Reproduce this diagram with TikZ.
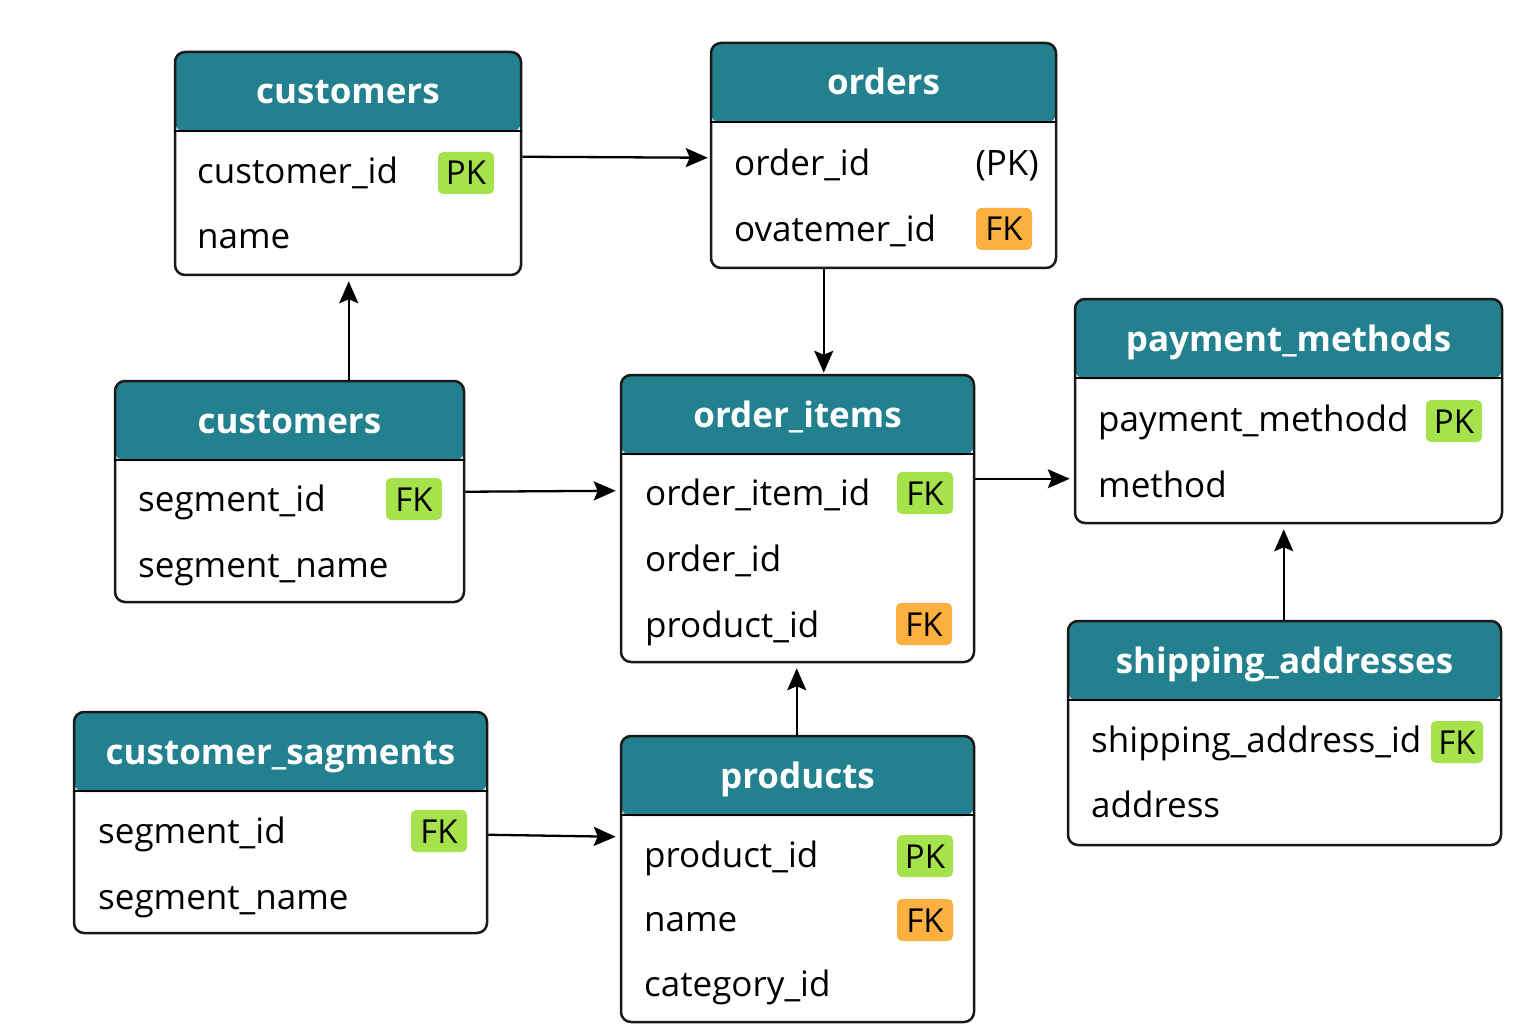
\documentclass[tikz,border=0pt]{standalone}
\usepackage{fontspec}
\setmainfont{Open Sans}
\usetikzlibrary{arrows.meta}
\definecolor{hdr}{RGB}{35,129,143}
\definecolor{pkg}{RGB}{166,226,76}
\definecolor{fko}{RGB}{251,176,64}
\tikzset{
 tbl/.style={draw=black!90, line width=2.5pt, rounded corners=10pt, fill=white, inner sep=0pt},
 ttl/.style={anchor=base, text=white, inner sep=0pt, font=\fontsize{35}{42}\selectfont\bfseries},
 fld/.style={anchor=base west, inner sep=0pt, font=\fontsize{35}{42}\selectfont},
 badge/.style={rounded corners=5pt, inner sep=0pt, minimum height=42pt, minimum width=56pt, text height=24pt, text depth=0pt, font=\fontsize{33}{40}\selectfont},
 pk/.style={badge, fill=pkg},
 fk/.style={badge, fill=fko},
 arr/.style={line width=2.3pt, -{Stealth[length=22pt,width=19pt,inset=4pt]}},
}
\newcommand{\ertbl}[6]{%
 \node[tbl, minimum width={#4pt-#2pt}, minimum height={#5pt-#3pt},
   path picture={\fill[hdr] (path picture bounding box.north west) rectangle ([yshift=-80pt]path picture bounding box.north east);}]
   (#1) at ({(#2+#4)/2},{(#3+#5)/2}) {};
 \draw[line width=2pt] ([yshift=-80pt]#1.north west) -- ([yshift=-80pt]#1.north east);
 \node[ttl] (#1-t) at ({(#2+#4)/2},{#3+52}) {#6};
}
\begin{document}
\begin{tikzpicture}[x=1pt,y=-1pt]
\useasboundingbox (0,0) rectangle (1536,1024);
% tables
\ertbl{c1}{175}{52}{521}{275}{customers}
\ertbl{o}{711}{43}{1056}{268}{orders}
\ertbl{pm}{1075}{299}{1502}{523}{payment\_methods}
\ertbl{c2}{115}{381}{464}{602}{customers}
\ertbl{oi}{621}{375}{974}{662}{order\_items}
\ertbl{sa}{1068}{621}{1501}{845}{shipping\_addresses}
\ertbl{cs}{74}{712}{487}{933}{customer\_sagments}
\ertbl{p}{621}{736}{974}{1022}{products}
% fields
\node[fld] (c1-f1) at (197,184) {customer\_id};
\node[fld] (c1-f2) at (197,249) {name};
\node[pk] (c1-b1) at (466,173) {PK};
\node[fld] (o-f1) at (734,176) {order\_id};
\node[fld] (o-f2) at (734,242) {ovatemer\_id};
\node[fld, anchor=base east] (o-pk) at (1039,176) {(PK)};
\node[fk] (o-b2) at (1004,229) {FK};
\node[fld] (pm-f1) at (1098,431) {payment\_methodd};
\node[fld] (pm-f2) at (1098,497) {method};
\node[pk] (pm-b1) at (1454,421) {PK};
\node[fld] (c2-f1) at (138,511) {segment\_id};
\node[fld] (c2-f2) at (138,577) {segment\_name};
\node[pk] (c2-b1) at (414,499) {FK};
\node[fld] (oi-f1) at (645,505) {order\_item\_id};
\node[fld] (oi-f2) at (645,571) {order\_id};
\node[fld] (oi-f3) at (645,637) {product\_id};
\node[pk] (oi-b1) at (925,493) {FK};
\node[fk] (oi-b3) at (924,624) {FK};
\node[fld] (sa-f1) at (1091,752) {shipping\_address\_id};
\node[fld] (sa-f2) at (1091,817) {address};
\node[pk, minimum width=52pt] (sa-b1) at (1457,742) {FK};
\node[fld] (cs-f1) at (98,843) {segment\_id};
\node[fld] (cs-f2) at (98,909) {segment\_name};
\node[pk] (cs-b1) at (439,831) {FK};
\node[fld] (p-f1) at (644,867) {product\_id};
\node[fld] (p-f2) at (644,931) {name};
\node[fld] (p-f3) at (644,996) {category\_id};
\node[pk] (p-b1) at (925,856) {PK};
\node[fk] (p-b2) at (925,920) {FK};
% connectors
\draw[arr] ([yshift=-106pt]c1.north east) -- ([xshift=-2pt,yshift=-116pt]o.north west);
\draw[arr] ([xshift=114pt]o.south west) -- ([xshift=204pt,yshift=1pt]oi.north west);
\draw[arr] ([xshift=235pt]c2.north west) -- ([xshift=175pt,yshift=-5pt]c1.south west);
\draw[arr] ([yshift=-112pt]c2.north east) -- ([xshift=-4pt,yshift=-117pt]oi.north west);
\draw[arr] ([yshift=-105pt]oi.north east) -- ([xshift=-4pt,yshift=-181pt]pm.north west);
\draw[arr] ([xshift=217pt]sa.north west) -- ([xshift=210pt,yshift=-5pt]pm.south west);
\draw[arr] ([xshift=177pt]p.north west) -- ([xshift=177pt,yshift=-5pt]oi.south west);
\draw[arr] ([yshift=-124pt]cs.north east) -- ([xshift=-4pt,yshift=-102pt]p.north west);
\end{tikzpicture}
\end{document}
